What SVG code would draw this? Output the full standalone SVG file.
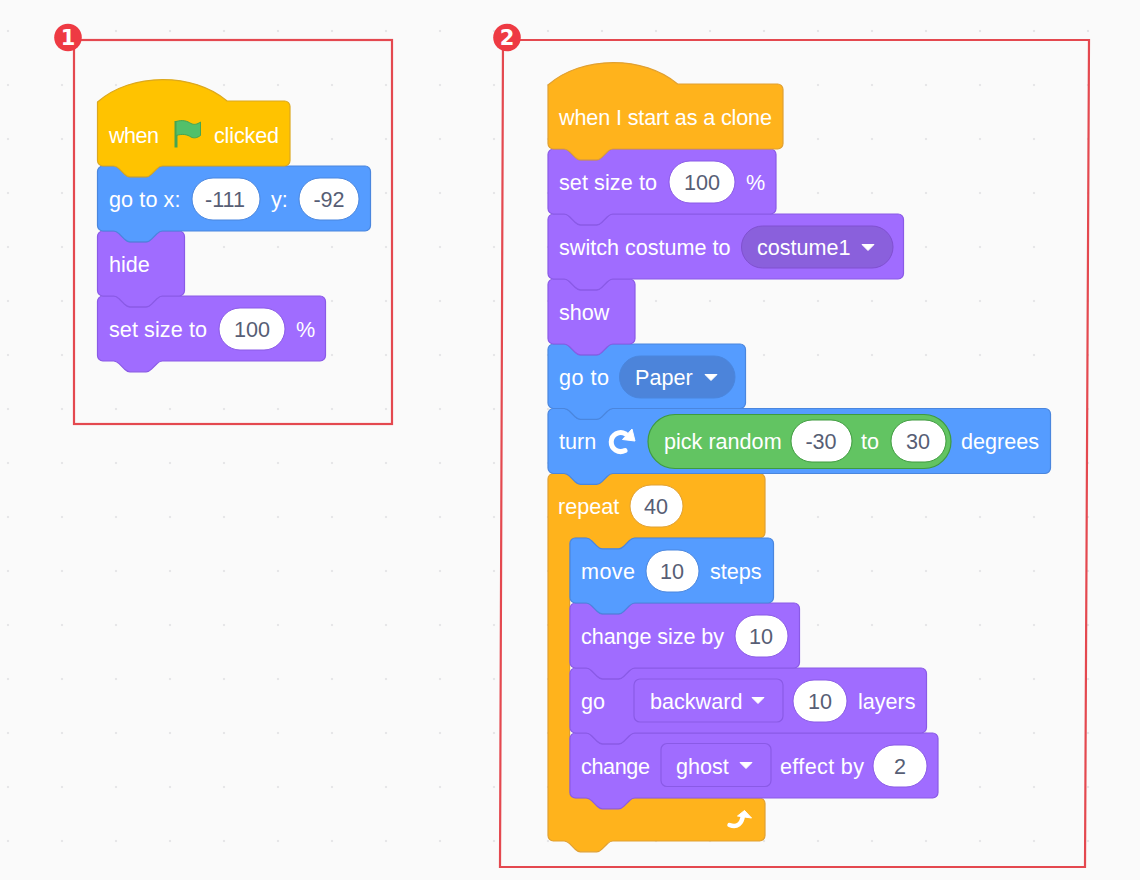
<svg xmlns="http://www.w3.org/2000/svg" width="1140" height="880" viewBox="0 0 1140 880">
<style>
text{font-family:"Liberation Sans",Arial,sans-serif;font-size:21.6px;fill:#fff}
.val{fill:#575E75;text-anchor:middle}
.pill{fill:#fff}
.motion{fill:#559CFF;stroke:#4A86DE;stroke-width:1.2}
.looks{fill:#A06CFF;stroke:#8A5AE6;stroke-width:1.2}
.control{fill:#FFB31C;stroke:#E0A032;stroke-width:1.2}
.event{fill:#FFC300;stroke:#DCA81E;stroke-width:1.2}
.frame{fill:none;stroke:#E4484F;stroke-width:2.2}
.badge{fill:#EE3A43}
.num{font-family:"DejaVu Sans",sans-serif;font-weight:bold;font-size:21px;fill:#fff;text-anchor:middle}
</style>
<defs>
<pattern id="dots" x="35" y="4" width="54" height="54" patternUnits="userSpaceOnUse"><circle cx="27" cy="27" r="1.2" fill="#E6E6E8"/></pattern>
</defs>
<rect width="1140" height="880" fill="#FAFAFA"/>
<rect width="1140" height="880" fill="url(#dots)"/>

<g id="connectors"></g>

<g id="frame-1">
<rect class="frame" x="74" y="40" width="318" height="384"/>
<circle class="badge" cx="68" cy="37.500" r="13.800"/>
<text class="num" x="68" y="45">1</text>
</g>

<g id="frame-2">
<path class="frame" d="M503,40H1089L1085,867H500Z"/>
<circle class="badge" cx="507" cy="37.500" r="13.800"/>
<text class="num" x="507" y="45">2</text>
</g>

<g id="set-size-1">
<path class="looks" transform="translate(97.5,296)" d="M0,5.4a5.4,5.4 0 0 1 5.4,-5.4H16.2c2.7,0 4,1.35 5.4,2.7l5.4,5.4c1.35,1.35 2.7,2.7 5.4,2.7h16.2c2.7,0 4,-1.35 5.4,-2.7l5.4,-5.4c1.35,-1.35 2.7,-2.7 5.4,-2.7H222.6a5.4,5.4 0 0 1 5.4,5.4V59.6a5.4,5.4 0 0 1 -5.4,5.4H64.8c-2.7,0 -4,1.35 -5.4,2.7l-5.4,5.4c-1.35,1.35 -2.7,2.7 -5.4,2.7h-16.2c-2.7,0 -4,-1.35 -5.4,-2.7l-5.4,-5.4c-1.35,-1.35 -2.7,-2.7 -5.4,-2.7H5.4a5.4,5.4 0 0 1 -5.4,-5.4z"/>
<text x="109" y="337" textLength="98">set size to</text>
<rect class="pill" x="219" y="308" width="66" height="42" rx="21" stroke="#8A5AE6"/>
<text class="val" x="252" y="337">100</text>
<text x="296" y="337">%</text>
</g>
<g id="hide">
<path class="looks" transform="translate(97.5,231)" d="M0,5.4a5.4,5.4 0 0 1 5.4,-5.4H16.2c2.7,0 4,1.35 5.4,2.7l5.4,5.4c1.35,1.35 2.7,2.7 5.4,2.7h16.2c2.7,0 4,-1.35 5.4,-2.7l5.4,-5.4c1.35,-1.35 2.7,-2.7 5.4,-2.7H81.6a5.4,5.4 0 0 1 5.4,5.4V59.6a5.4,5.4 0 0 1 -5.4,5.4H64.8c-2.7,0 -4,1.35 -5.4,2.7l-5.4,5.4c-1.35,1.35 -2.7,2.7 -5.4,2.7h-16.2c-2.7,0 -4,-1.35 -5.4,-2.7l-5.4,-5.4c-1.35,-1.35 -2.7,-2.7 -5.4,-2.7H5.4a5.4,5.4 0 0 1 -5.4,-5.4z"/>
<text x="109" y="272">hide</text>
</g>
<g id="go-to-xy">
<path class="motion" transform="translate(97.5,166)" d="M0,5.4a5.4,5.4 0 0 1 5.4,-5.4H16.2c2.7,0 4,1.35 5.4,2.7l5.4,5.4c1.35,1.35 2.7,2.7 5.4,2.7h16.2c2.7,0 4,-1.35 5.4,-2.7l5.4,-5.4c1.35,-1.35 2.7,-2.7 5.4,-2.7H267.6a5.4,5.4 0 0 1 5.4,5.4V59.6a5.4,5.4 0 0 1 -5.4,5.4H64.8c-2.7,0 -4,1.35 -5.4,2.7l-5.4,5.4c-1.35,1.35 -2.7,2.7 -5.4,2.7h-16.2c-2.7,0 -4,-1.35 -5.4,-2.7l-5.4,-5.4c-1.35,-1.35 -2.7,-2.7 -5.4,-2.7H5.4a5.4,5.4 0 0 1 -5.4,-5.4z"/>
<text x="109" y="207" textLength="71.500">go to x:</text>
<rect class="pill" x="192" y="178" width="68" height="42" rx="21" stroke="#4A86DE"/>
<text class="val" x="225" y="207">-111</text>
<text x="271" y="207">y:</text>
<rect class="pill" x="299" y="178" width="60" height="42" rx="21" stroke="#4A86DE"/>
<text class="val" x="329" y="207">-92</text>
</g>
<g id="when-flag-clicked">
<path class="event" transform="translate(97.5,101)" d="M0,1c33.75,-29.7 95.85,-29.7 129.6,-1H187.1a5.4,5.4 0 0 1 5.4,5.4V59.6a5.4,5.4 0 0 1 -5.4,5.4H64.8c-2.7,0 -4,1.35 -5.4,2.7l-5.4,5.4c-1.35,1.35 -2.7,2.7 -5.4,2.7h-16.2c-2.7,0 -4,-1.35 -5.4,-2.7l-5.4,-5.4c-1.35,-1.35 -2.7,-2.7 -5.4,-2.7H5.4a5.4,5.4 0 0 1 -5.4,-5.4z"/>
<text x="109" y="143" textLength="50">when</text>
<path d="M176,121V147.500" stroke="#46A552" stroke-width="3" fill="none"/>
<path d="M176,121.500c7,-2 11,-0.500 15,2c3,1.500 6,1 9.500,-1.500V135.500c-3.500,2.500 -6.500,3 -9.500,1.500c-4,-2.500 -8,-3.500 -15,-1.500z" fill="#52C06A" stroke="#46A552" stroke-width="1"/>
<text x="214" y="143" textLength="65">clicked</text>
</g>

<g id="repeat">
<path class="control" transform="translate(548,473.500)" d="M0,5.4a5.4,5.4 0 0 1 5.4,-5.4H16.2c2.7,0 4,1.35 5.4,2.7l5.4,5.4c1.35,1.35 2.7,2.7 5.4,2.7h16.2c2.7,0 4,-1.35 5.4,-2.7l5.4,-5.4c1.35,-1.35 2.7,-2.7 5.4,-2.7H211.6a5.4,5.4 0 0 1 5.4,5.4V59.100a5.4,5.4 0 0 1 -5.4,5.4H86.4c-2.7,0 -4,1.35 -5.4,2.7l-5.4,5.4c-1.35,1.35 -2.7,2.7 -5.4,2.7h-16.2c-2.7,0 -4,-1.35 -5.4,-2.7l-5.4,-5.4c-1.35,-1.35 -2.7,-2.7 -5.4,-2.7H27a5.4,5.4 0 0 0 -5.4,5.4V319.100a5.4,5.4 0 0 0 5.4,5.4H211.6a5.4,5.4 0 0 1 5.4,5.4V362.100a5.4,5.4 0 0 1 -5.4,5.4H64.8c-2.7,0 -4,1.35 -5.4,2.7l-5.4,5.4c-1.35,1.35 -2.7,2.7 -5.4,2.7h-16.2c-2.7,0 -4,-1.35 -5.4,-2.7l-5.4,-5.4c-1.35,-1.35 -2.7,-2.7 -5.4,-2.7H5.4a5.4,5.4 0 0 1 -5.4,-5.4z"/>
<text x="558" y="514">repeat</text>
<rect class="pill" x="630" y="485" width="53" height="42" rx="21" stroke="#E0A032"/>
<text class="val" x="656" y="514">40</text>
<path d="M729.500,825C737,828 742,824 743,815" fill="none" stroke="#fff" stroke-width="4.500" stroke-linecap="round"/>
<path d="M744.500,810.500L751.500,818L737.500,816z" fill="#fff" stroke="#fff" stroke-linejoin="round"/>
</g>
<g id="change-ghost">
<path class="looks" transform="translate(570,733)" d="M0,5.4a5.4,5.4 0 0 1 5.4,-5.4H16.2c2.7,0 4,1.35 5.4,2.7l5.4,5.4c1.35,1.35 2.7,2.7 5.4,2.7h16.2c2.7,0 4,-1.35 5.4,-2.7l5.4,-5.4c1.35,-1.35 2.7,-2.7 5.4,-2.7H362.600a5.4,5.4 0 0 1 5.4,5.4V59.6a5.4,5.4 0 0 1 -5.4,5.4H64.8c-2.7,0 -4,1.35 -5.4,2.7l-5.4,5.4c-1.35,1.35 -2.7,2.7 -5.4,2.7h-16.2c-2.7,0 -4,-1.35 -5.4,-2.7l-5.4,-5.4c-1.35,-1.35 -2.7,-2.7 -5.4,-2.7H5.4a5.4,5.4 0 0 1 -5.4,-5.4z"/>
<text x="581" y="773.500" textLength="69">change</text>
<rect x="661" y="743.500" width="110" height="43" rx="6" fill="#A06CFF" stroke="#8A5AE6" stroke-width="1.2"/>
<text x="676" y="773.500">ghost</text>
<path d="M740,762.500h12l-6,6z" fill="#fff" stroke="#fff" stroke-linejoin="round"/>
<text x="780" y="773.500" textLength="84">effect by</text>
<rect class="pill" x="873" y="745" width="54" height="42" rx="21" stroke="#8A5AE6"/>
<text class="val" x="900" y="773.500">2</text>
</g>
<g id="go-backward">
<path class="looks" transform="translate(570,668)" d="M0,5.4a5.4,5.4 0 0 1 5.4,-5.4H16.2c2.7,0 4,1.35 5.4,2.7l5.4,5.4c1.35,1.35 2.7,2.7 5.4,2.7h16.2c2.7,0 4,-1.35 5.4,-2.7l5.4,-5.4c1.35,-1.35 2.7,-2.7 5.4,-2.7H351.100a5.4,5.4 0 0 1 5.4,5.4V59.6a5.4,5.4 0 0 1 -5.4,5.4H64.8c-2.7,0 -4,1.35 -5.4,2.7l-5.4,5.4c-1.35,1.35 -2.7,2.7 -5.4,2.7h-16.2c-2.7,0 -4,-1.35 -5.4,-2.7l-5.4,-5.4c-1.35,-1.35 -2.7,-2.7 -5.4,-2.7H5.4a5.4,5.4 0 0 1 -5.4,-5.4z"/>
<text x="581" y="709">go</text>
<rect x="634" y="679" width="149" height="43" rx="6" fill="#A06CFF" stroke="#8A5AE6" stroke-width="1.2"/>
<text x="650" y="709">backward</text>
<path d="M752,697.500h12l-6,6z" fill="#fff" stroke="#fff" stroke-linejoin="round"/>
<rect class="pill" x="793" y="680" width="54" height="42" rx="21" stroke="#8A5AE6"/>
<text class="val" x="820" y="709">10</text>
<text x="858" y="709">layers</text>
</g>
<g id="change-size-by">
<path class="looks" transform="translate(570,603)" d="M0,5.4a5.4,5.4 0 0 1 5.4,-5.4H16.2c2.7,0 4,1.35 5.4,2.7l5.4,5.4c1.35,1.35 2.7,2.7 5.4,2.7h16.2c2.7,0 4,-1.35 5.4,-2.7l5.4,-5.4c1.35,-1.35 2.7,-2.7 5.4,-2.7H224.100a5.4,5.4 0 0 1 5.4,5.4V59.6a5.4,5.4 0 0 1 -5.4,5.4H64.8c-2.7,0 -4,1.35 -5.4,2.7l-5.4,5.4c-1.35,1.35 -2.7,2.7 -5.4,2.7h-16.2c-2.7,0 -4,-1.35 -5.4,-2.7l-5.4,-5.4c-1.35,-1.35 -2.7,-2.7 -5.4,-2.7H5.4a5.4,5.4 0 0 1 -5.4,-5.4z"/>
<text x="581" y="644" textLength="143">change size by</text>
<rect class="pill" x="735" y="615" width="53" height="42" rx="21" stroke="#8A5AE6"/>
<text class="val" x="761" y="644">10</text>
</g>
<g id="move-steps">
<path class="motion" transform="translate(570,538)" d="M0,5.4a5.4,5.4 0 0 1 5.4,-5.4H16.2c2.7,0 4,1.35 5.4,2.7l5.4,5.4c1.35,1.35 2.7,2.7 5.4,2.7h16.2c2.7,0 4,-1.35 5.4,-2.7l5.4,-5.4c1.35,-1.35 2.7,-2.7 5.4,-2.7H198.100a5.4,5.4 0 0 1 5.4,5.4V59.6a5.4,5.4 0 0 1 -5.4,5.4H64.8c-2.7,0 -4,1.35 -5.4,2.7l-5.4,5.4c-1.35,1.35 -2.7,2.7 -5.4,2.7h-16.2c-2.7,0 -4,-1.35 -5.4,-2.7l-5.4,-5.4c-1.35,-1.35 -2.7,-2.7 -5.4,-2.7H5.4a5.4,5.4 0 0 1 -5.4,-5.4z"/>
<text x="581" y="579" textLength="54">move</text>
<rect class="pill" x="646" y="550" width="53" height="42" rx="21" stroke="#4A86DE"/>
<text class="val" x="672" y="579">10</text>
<text x="710" y="579">steps</text>
</g>
<g id="turn-degrees">
<path class="motion" transform="translate(548,408.500)" d="M0,5.4a5.4,5.4 0 0 1 5.4,-5.4H16.2c2.7,0 4,1.35 5.4,2.7l5.4,5.4c1.35,1.35 2.7,2.7 5.4,2.7h16.2c2.7,0 4,-1.35 5.4,-2.7l5.4,-5.4c1.35,-1.35 2.7,-2.7 5.4,-2.7H497.100a5.4,5.4 0 0 1 5.4,5.4V59.6a5.4,5.4 0 0 1 -5.4,5.4H64.8c-2.7,0 -4,1.35 -5.4,2.7l-5.4,5.4c-1.35,1.35 -2.7,2.7 -5.4,2.7h-16.2c-2.7,0 -4,-1.35 -5.4,-2.7l-5.4,-5.4c-1.35,-1.35 -2.7,-2.7 -5.4,-2.7H5.4a5.4,5.4 0 0 1 -5.4,-5.4z"/>
<text x="559" y="449">turn</text>
<path d="M625,450.500A9.500,9.500 0 1 1 625.500,433.800" fill="none" stroke="#fff" stroke-width="5" stroke-linecap="round"/>
<path d="M632,429L635,441L622.500,439.500z" fill="#fff" stroke="#fff" stroke-linejoin="round"/>
<rect x="648" y="414.500" width="303" height="54" rx="27" fill="#62C462" stroke="#3F9B3F" stroke-width="1.2"/>
<text x="664" y="449">pick random</text>
<rect class="pill" x="791" y="420" width="61" height="42" rx="21" stroke="#3F9B3F"/>
<text class="val" x="821" y="449">-30</text>
<text x="861" y="449">to</text>
<rect class="pill" x="891" y="420" width="55" height="42" rx="21" stroke="#3F9B3F"/>
<text class="val" x="918" y="449">30</text>
<text x="961" y="449">degrees</text>
</g>
<g id="go-to-paper">
<path class="motion" transform="translate(548,344)" d="M0,5.4a5.4,5.4 0 0 1 5.4,-5.4H16.2c2.7,0 4,1.35 5.4,2.7l5.4,5.4c1.35,1.35 2.7,2.7 5.4,2.7h16.2c2.7,0 4,-1.35 5.4,-2.7l5.4,-5.4c1.35,-1.35 2.7,-2.7 5.4,-2.7H192.100a5.4,5.4 0 0 1 5.4,5.4V59.100a5.4,5.4 0 0 1 -5.4,5.4H64.8c-2.7,0 -4,1.35 -5.4,2.7l-5.4,5.4c-1.35,1.35 -2.7,2.7 -5.4,2.7h-16.2c-2.7,0 -4,-1.35 -5.4,-2.7l-5.4,-5.4c-1.35,-1.35 -2.7,-2.7 -5.4,-2.7H5.4a5.4,5.4 0 0 1 -5.4,-5.4z"/>
<text x="559" y="385" textLength="50">go to</text>
<rect x="619.500" y="356" width="115.500" height="42" rx="21" fill="#4C84DA" stroke="#4A86DE"/>
<text x="635" y="385">Paper</text>
<path d="M705,374.500h12l-6,6z" fill="#fff" stroke="#fff" stroke-linejoin="round"/>
</g>
<g id="show">
<path class="looks" transform="translate(548,279)" d="M0,5.4a5.4,5.4 0 0 1 5.4,-5.4H16.2c2.7,0 4,1.35 5.4,2.7l5.4,5.4c1.35,1.35 2.7,2.7 5.4,2.7h16.2c2.7,0 4,-1.35 5.4,-2.7l5.4,-5.4c1.35,-1.35 2.7,-2.7 5.4,-2.7H81.6a5.4,5.4 0 0 1 5.4,5.4V59.6a5.4,5.4 0 0 1 -5.4,5.4H64.8c-2.7,0 -4,1.35 -5.4,2.7l-5.4,5.4c-1.35,1.35 -2.7,2.7 -5.4,2.7h-16.2c-2.7,0 -4,-1.35 -5.4,-2.7l-5.4,-5.4c-1.35,-1.35 -2.7,-2.7 -5.4,-2.7H5.4a5.4,5.4 0 0 1 -5.4,-5.4z"/>
<text x="559" y="320">show</text>
</g>
<g id="switch-costume">
<path class="looks" transform="translate(548,214)" d="M0,5.4a5.4,5.4 0 0 1 5.4,-5.4H16.2c2.7,0 4,1.35 5.4,2.7l5.4,5.4c1.35,1.35 2.7,2.7 5.4,2.7h16.2c2.7,0 4,-1.35 5.4,-2.7l5.4,-5.4c1.35,-1.35 2.7,-2.7 5.4,-2.7H350.100a5.4,5.4 0 0 1 5.4,5.4V59.6a5.4,5.4 0 0 1 -5.4,5.4H64.8c-2.7,0 -4,1.35 -5.4,2.7l-5.4,5.4c-1.35,1.35 -2.7,2.7 -5.4,2.7h-16.2c-2.7,0 -4,-1.35 -5.4,-2.7l-5.4,-5.4c-1.35,-1.35 -2.7,-2.7 -5.4,-2.7H5.4a5.4,5.4 0 0 1 -5.4,-5.4z"/>
<text x="559" y="255">switch costume to</text>
<rect x="741.500" y="226" width="151.500" height="42" rx="21" fill="#8A60DC" stroke="#8050D0"/>
<text x="757" y="255">costume1</text>
<path d="M862,244.500h12l-6,6z" fill="#fff" stroke="#fff" stroke-linejoin="round"/>
</g>
<g id="set-size-2">
<path class="looks" transform="translate(548,149)" d="M0,5.4a5.4,5.4 0 0 1 5.4,-5.4H16.2c2.7,0 4,1.35 5.4,2.7l5.4,5.4c1.35,1.35 2.7,2.7 5.4,2.7h16.2c2.7,0 4,-1.35 5.4,-2.7l5.4,-5.4c1.35,-1.35 2.7,-2.7 5.4,-2.7H222.600a5.4,5.4 0 0 1 5.4,5.4V59.6a5.4,5.4 0 0 1 -5.4,5.4H64.8c-2.7,0 -4,1.35 -5.4,2.7l-5.4,5.4c-1.35,1.35 -2.7,2.7 -5.4,2.7h-16.2c-2.7,0 -4,-1.35 -5.4,-2.7l-5.4,-5.4c-1.35,-1.35 -2.7,-2.7 -5.4,-2.7H5.4a5.4,5.4 0 0 1 -5.4,-5.4z"/>
<text x="559" y="190" textLength="98">set size to</text>
<rect class="pill" x="669" y="161" width="66" height="42" rx="21" stroke="#8A5AE6"/>
<text class="val" x="702" y="190">100</text>
<text x="746" y="190">%</text>
</g>
<g id="when-clone">
<path class="control" transform="translate(548,84)" d="M0,1c33.75,-29.7 95.85,-29.7 129.6,-1H229.600a5.4,5.4 0 0 1 5.4,5.4V59.6a5.4,5.4 0 0 1 -5.4,5.4H64.8c-2.7,0 -4,1.35 -5.4,2.7l-5.4,5.4c-1.35,1.35 -2.7,2.7 -5.4,2.7h-16.2c-2.7,0 -4,-1.35 -5.4,-2.7l-5.4,-5.4c-1.35,-1.35 -2.7,-2.7 -5.4,-2.7H5.4a5.4,5.4 0 0 1 -5.4,-5.4z"/>
<text x="559" y="125" textLength="213">when I start as a clone</text>
</g>
</svg>
